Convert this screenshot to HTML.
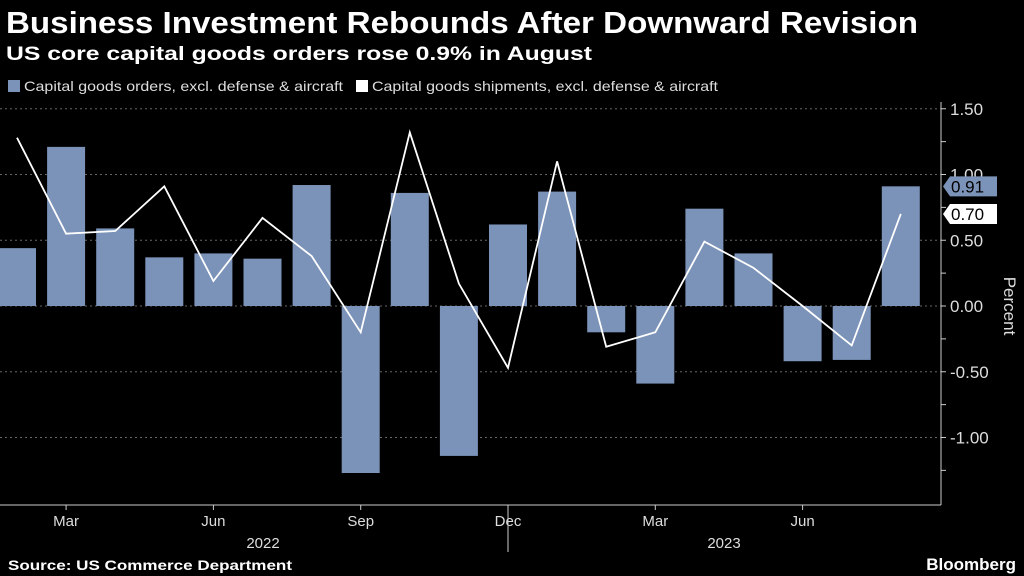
<!DOCTYPE html>
<html><head><meta charset="utf-8"><style>
body{margin:0;background:#000;width:1024px;height:576px;overflow:hidden;font-family:"Liberation Sans",sans-serif;color:#fff}
svg{display:block}
</style></head><body>
<svg width="1024" height="576" xmlns="http://www.w3.org/2000/svg" id="svg">
<text x="6" y="33" font-size="31" font-weight="bold" fill="#fff" textLength="912" lengthAdjust="spacingAndGlyphs">Business Investment Rebounds After Downward Revision</text>
<text x="6" y="60" font-size="19" font-weight="bold" fill="#fff" textLength="586" lengthAdjust="spacingAndGlyphs">US core capital goods orders rose 0.9% in August</text>
<rect x="8" y="80" width="12" height="12" fill="#7b93b8"/>
<text x="24" y="91" font-size="14" fill="#ddd" textLength="319" lengthAdjust="spacingAndGlyphs">Capital goods orders, excl. defense &amp; aircraft</text>
<rect x="356" y="80" width="12" height="12" fill="#fff"/>
<text x="372" y="91" font-size="14" fill="#ddd" textLength="346" lengthAdjust="spacingAndGlyphs">Capital goods shipments, excl. defense &amp; aircraft</text>
<g id="plot"></g>
<text x="8" y="570" font-size="14" font-weight="bold" fill="#fff" textLength="284" lengthAdjust="spacingAndGlyphs">Source: US Commerce Department</text>
<text x="1016" y="570" font-size="17" font-weight="bold" fill="#fff" text-anchor="end">Bloomberg</text>
<text transform="translate(1004,306) rotate(90)" font-size="17" fill="#ddd" text-anchor="middle">Percent</text>
</svg>
<script>
const months=["Feb","Mar","Apr","May","Jun","Jul","Aug","Sep","Oct","Nov","Dec","Jan","Feb","Mar","Apr","May","Jun","Jul","Aug"];
const orders=[0.44,1.21,0.59,0.37,0.40,0.36,0.92,-1.27,0.86,-1.14,0.62,0.87,-0.20,-0.59,0.74,0.40,-0.42,-0.41,0.91];
const shipments=[1.28,0.55,0.57,0.91,0.19,0.67,0.38,-0.20,1.32,0.17,-0.47,1.10,-0.31,-0.20,0.49,0.29,0.00,-0.30,0.70];
const yTicks=[1.5,1.0,0.5,0.0,-0.5,-1.0];
const xLabelIdx=[1,4,7,10,13,16];
const xLabels=["Mar","Jun","Sep","Dec","Mar","Jun"];
const years=["2022","2023"];
const ns="http://www.w3.org/2000/svg";
const g=document.getElementById('plot');
const y=v=>306-v*131.5;
const x=i=>17+i*49.1;
function mk(t,a,p){const e=document.createElementNS(ns,t);for(const k in a)e.setAttribute(k,a[k]);(p||g).appendChild(e);return e;}
yTicks.forEach(v=>{
 const l=mk('line',{x1:0,x2:941,y1:y(v),y2:y(v),stroke:'#666','stroke-dasharray':'2,3','stroke-width':1});
 
 
 const t=mk('text',{x:950,y:y(v)+6,'font-size':17,fill:'#ddd'});t.textContent=v.toFixed(2);
 
 
 mk('line',{x1:941,x2:946,y1:y(v),y2:y(v),stroke:'#ccc'});
 mk('line',{x1:941,x2:946,y1:y(v-0.25),y2:y(v-0.25),stroke:'#ccc'});
});
orders.forEach((v,i)=>{
 const r=mk('rect',{x:x(i)-19,width:38,y:Math.min(y(v),y(0)),height:Math.abs(y(v)-y(0)),fill:'#7b93b8'});
 
 
});
const pl=mk('polyline',{points:shipments.map((v,i)=>x(i)+','+y(v)).join(' '),fill:'none',stroke:'#fff','stroke-width':1.8});


mk('line',{x1:941,x2:941,y1:102,y2:505,stroke:'#ccc'});
mk('line',{x1:0,x2:941,y1:505,y2:505,stroke:'#ccc'});
xLabelIdx.forEach((idx,k)=>{
 mk('line',{x1:x(idx),x2:x(idx),y1:505,y2:510,stroke:'#ccc'});
 const t=mk('text',{x:x(idx),y:526,'font-size':15,fill:'#ddd','text-anchor':'middle'});t.textContent=xLabels[k];
 
 
});
mk('line',{x1:508,x2:508,y1:505,y2:552,stroke:'#ccc'});
[[263,years[0]],[724,years[1]]].forEach(([px,s])=>{
 const t=mk('text',{x:px,y:548,'font-size':15,fill:'#ddd','text-anchor':'middle'});t.textContent=s;
 
 
});
function tag(v,bg,fg,name){
 const yy=y(v);
 const p=mk('path',{d:`M943 ${yy} L950 ${yy-10} L997 ${yy-10} L997 ${yy+10} L950 ${yy+10} Z`,fill:bg});
 
 
 const t=mk('text',{x:951,y:yy+6,'font-size':17,fill:fg});t.textContent=v.toFixed(2);
}
tag(orders[orders.length-1],'#7b93b8','#000','orders-last-value');
tag(shipments[shipments.length-1],'#fff','#000','shipments-last-value');
</script>
</body></html>
